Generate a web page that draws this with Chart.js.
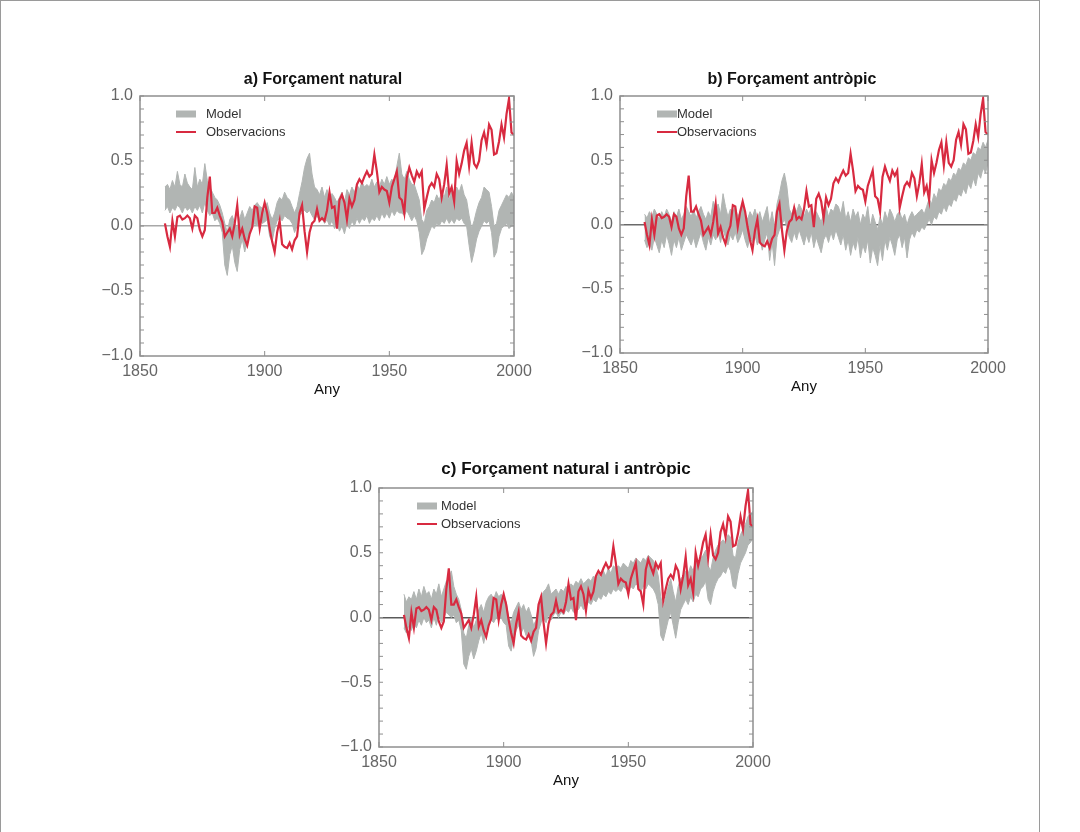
<!DOCTYPE html>
<html>
<head>
<meta charset="utf-8">
<title>Forçament natural i antròpic</title>
<script src="https://cdn.jsdelivr.net/npm/chart.js@4.4.1/dist/chart.umd.min.js"></script>
<style>
  html, body { margin: 0; padding: 0; background: #fff; }
  body { width: 1080px; height: 832px; position: relative; overflow: hidden; }
  #frame { position: absolute; left: 0; top: 0; width: 1040px; height: 900px; border: 1px solid #9a9a9a; box-sizing: border-box; }
  canvas { position: absolute; }
  #ca { left: 60px; top: 62px; }
  #cb { left: 540px; top: 62px; }
  #cc { left: 299px; top: 454px; }
</style>
</head>
<body>
<div id="frame"></div>
<canvas id="ca" width="500" height="346"></canvas>
<canvas id="cb" width="494" height="343"></canvas>
<canvas id="cc" width="500" height="345"></canvas>
<script>
// Panel titles, legend names and axis labels
const panelTitles = ['a) Forçament natural', 'b) Forçament antròpic', 'c) Forçament natural i antròpic'];
const seriesNames = ['Model', 'Observacions'];
const xAxisTitle = 'Any';
const xTickLabels = ['1850', '1900', '1950', '2000'];
const yTickLabels = ['\u22121.0', '\u22120.5', '0.0', '0.5', '1.0'];

// Annual years 1860–2000
const firstYear = 1860, lastYear = 2000;
const years = [];
for (let yr = firstYear; yr <= lastYear; yr++) years.push(yr);

// Observed global mean temperature anomaly (°C), 1860–2000
const observed = [
  0.02, -0.08, -0.16, 0.04, -0.08, 0.07, 0.08, 0.05, 0.06, 0.08,
  0.06, -0.02, 0.08, 0.06, -0.03, -0.08, -0.03, 0.22, 0.38, 0.10,
  0.10, 0.14, 0.08, 0.03, -0.08, -0.05, -0.02, -0.08, 0.02, 0.16,
  -0.07, -0.02, -0.10, -0.15, -0.06, -0.01, 0.15, 0.14, -0.02, 0.10,
  0.18, 0.10, -0.02, -0.12, -0.20, -0.05, 0.04, -0.14, -0.16, -0.17,
  -0.13, -0.18, -0.11, -0.08, 0.10, 0.16, -0.04, -0.20, -0.05, 0.02,
  0.04, 0.13, 0.04, 0.06, 0.04, 0.12, 0.26, 0.14, 0.15, -0.02,
  0.20, 0.24, 0.18, 0.05, 0.21, 0.15, 0.20, 0.32, 0.36, 0.33,
  0.38, 0.42, 0.38, 0.40, 0.55, 0.42, 0.26, 0.30, 0.28, 0.27,
  0.18, 0.30, 0.36, 0.42, 0.22, 0.20, 0.10, 0.37, 0.45, 0.39,
  0.34, 0.42, 0.38, 0.42, 0.13, 0.22, 0.30, 0.33, 0.30, 0.40,
  0.36, 0.22, 0.32, 0.47, 0.25, 0.30, 0.19, 0.50, 0.40, 0.48,
  0.58, 0.64, 0.46, 0.64, 0.48, 0.45, 0.50, 0.66, 0.72, 0.62,
  0.78, 0.74, 0.55, 0.56, 0.65, 0.78, 0.68, 0.86, 0.98, 0.72,
  0.70
];

// Model ensemble range, natural forcing only
const naturalLow = [
  0.12, 0.15, 0.10, 0.14, 0.12, 0.16, 0.14, 0.10, 0.15, 0.12,
  0.14, 0.10, 0.15, 0.12, 0.16, 0.10, 0.18, 0.12, 0.08, 0.10,
  0.04, 0.06, 0.02, -0.05, -0.30, -0.38, -0.22, -0.15, -0.28, -0.35,
  -0.18, -0.10, -0.20, -0.12, -0.05, -0.02, 0.02, 0.00, 0.04, 0.02,
  0.03, 0.05, -0.08, -0.12, -0.02, 0.04, 0.06, 0.04, 0.08, 0.06,
  0.05, 0.02, -0.05, 0.00, 0.08, 0.10, 0.12, 0.10, 0.12, 0.08,
  0.05, 0.08, 0.04, 0.06, 0.02, 0.05, 0.00, 0.04, -0.02, 0.02,
  -0.04, 0.00, -0.06, 0.02, -0.02, 0.04, 0.00, 0.06, 0.02, 0.06,
  0.04, 0.08, 0.02, 0.06, 0.04, 0.08, 0.04, 0.10, 0.06, 0.10,
  0.06, 0.12, 0.08, 0.12, 0.10, 0.10, 0.08, 0.12, 0.08, 0.04,
  0.08, 0.04, -0.05, -0.22, -0.18, -0.10, -0.05, 0.00, -0.02, 0.02,
  0.00, 0.04, 0.02, 0.06, 0.02, 0.05, 0.02, 0.06, 0.04, 0.06,
  0.02, 0.00, -0.15, -0.28, -0.20, -0.10, -0.04, 0.00, 0.04, 0.02,
  0.04, -0.05, -0.24, -0.20, -0.08, -0.02, 0.00, 0.02, -0.02, 0.00,
  0.02
];
const naturalHigh = [
  0.30, 0.32, 0.28, 0.35, 0.30, 0.42, 0.32, 0.30, 0.40, 0.33,
  0.30, 0.28, 0.45, 0.30, 0.36, 0.32, 0.48, 0.35, 0.30, 0.26,
  0.22, 0.20, 0.16, 0.10, 0.02, -0.05, 0.05, 0.08, 0.02, -0.02,
  0.06, 0.12, 0.05, 0.10, 0.15, 0.12, 0.16, 0.18, 0.15, 0.14,
  0.12, 0.18, 0.10, 0.05, 0.10, 0.18, 0.22, 0.20, 0.26, 0.22,
  0.20, 0.15, 0.10, 0.15, 0.25, 0.34, 0.45, 0.52, 0.56, 0.40,
  0.30, 0.28, 0.24, 0.30, 0.22, 0.28, 0.20, 0.25, 0.22, 0.18,
  0.22, 0.26, 0.18, 0.28, 0.24, 0.30, 0.26, 0.32, 0.28, 0.34,
  0.30, 0.32, 0.30, 0.36, 0.30, 0.34, 0.30, 0.36, 0.32, 0.38,
  0.32, 0.36, 0.34, 0.46, 0.56, 0.40, 0.36, 0.42, 0.36, 0.32,
  0.32, 0.26, 0.20, 0.05, 0.02, 0.12, 0.15, 0.20, 0.18, 0.24,
  0.20, 0.26, 0.22, 0.30, 0.20, 0.28, 0.24, 0.30, 0.26, 0.32,
  0.24, 0.20, 0.08, -0.02, 0.04, 0.12, 0.18, 0.22, 0.30, 0.28,
  0.26, 0.15, 0.00, 0.02, 0.12, 0.16, 0.20, 0.24, 0.22, 0.26,
  0.22
];

// Model ensemble range, anthropogenic forcing only
const anthroLow = [
  -0.12, -0.18, -0.14, -0.20, -0.10, -0.16, -0.22, -0.12, -0.18, -0.08,
  -0.15, -0.24, -0.12, -0.18, -0.10, -0.20, -0.14, -0.08, -0.12, -0.16,
  -0.10, -0.18, -0.12, -0.06, -0.14, -0.20, -0.10, -0.16, -0.08, -0.12,
  -0.06, -0.14, -0.04, -0.10, -0.16, -0.08, -0.12, -0.06, -0.14, -0.10,
  -0.04, -0.12, -0.18, -0.10, -0.14, -0.08, -0.16, -0.10, -0.20, -0.12,
  -0.06, -0.28, -0.14, -0.32, -0.10, -0.04, 0.00, 0.04, -0.02, -0.10,
  -0.14, -0.06, -0.12, -0.04, -0.10, -0.16, -0.08, -0.14, -0.06, -0.18,
  -0.10, -0.16, -0.22, -0.12, -0.08, -0.14, -0.06, -0.12, -0.04, -0.10,
  -0.16, -0.08, -0.20, -0.12, -0.24, -0.14, -0.20, -0.10, -0.26, -0.16,
  -0.22, -0.12, -0.30, -0.18, -0.24, -0.32, -0.16, -0.28, -0.12, -0.20,
  -0.10, -0.16, -0.24, -0.12, -0.08, -0.18, -0.10, -0.26, -0.12, -0.06,
  -0.10, -0.04, -0.06, -0.02, -0.04, 0.00, 0.04, 0.00, 0.06, 0.04,
  0.10, 0.08, 0.14, 0.10, 0.16, 0.14, 0.20, 0.18, 0.24, 0.22,
  0.28, 0.24, 0.32, 0.28, 0.36, 0.30, 0.40, 0.36, 0.44, 0.40,
  0.48
];
const anthroHigh = [
  0.08, 0.05, 0.10, 0.06, 0.12, 0.08, 0.04, 0.10, 0.06, 0.12,
  0.08, 0.02, 0.10, 0.06, 0.12, 0.04, 0.08, 0.14, 0.10, 0.06,
  0.12, 0.05, 0.10, 0.14, 0.08, 0.04, 0.10, 0.06, 0.18, 0.12,
  0.16, 0.08, 0.24, 0.14, 0.06, 0.12, 0.10, 0.14, 0.06, 0.10,
  0.16, 0.08, 0.04, 0.10, 0.06, 0.12, 0.05, 0.10, 0.02, 0.08,
  0.14, 0.00, 0.10, -0.02, 0.16, 0.24, 0.34, 0.40, 0.30, 0.12,
  0.08, 0.14, 0.10, 0.16, 0.12, 0.06, 0.12, 0.08, 0.14, 0.04,
  0.10, 0.06, 0.02, 0.08, 0.14, 0.06, 0.12, 0.10, 0.16, 0.14,
  0.08, 0.18, 0.04, 0.10, 0.02, 0.12, 0.06, 0.10, 0.00, 0.08,
  0.04, 0.14, -0.02, 0.08, 0.02, -0.04, 0.06, 0.00, 0.10, 0.04,
  0.12, 0.08, 0.02, 0.08, 0.10, 0.04, 0.08, 0.00, 0.06, 0.10,
  0.06, 0.08, 0.10, 0.12, 0.08, 0.14, 0.20, 0.16, 0.24, 0.20,
  0.28, 0.26, 0.32, 0.30, 0.36, 0.34, 0.40, 0.38, 0.44, 0.42,
  0.48, 0.46, 0.52, 0.50, 0.56, 0.54, 0.60, 0.58, 0.64, 0.60,
  0.66
];

// Model ensemble range, natural and anthropogenic forcing
const combinedLow = [
  -0.08, -0.12, -0.06, -0.10, -0.04, -0.08, -0.02, -0.06, 0.00, -0.04,
  -0.02, -0.08, 0.00, -0.06, 0.02, -0.04, 0.00, 0.04, 0.02, 0.00,
  0.02, -0.04, -0.02, -0.10, -0.36, -0.40, -0.30, -0.24, -0.32, -0.26,
  -0.18, -0.12, -0.20, -0.10, -0.06, -0.02, -0.04, 0.00, -0.02, 0.00,
  -0.04, -0.06, -0.22, -0.26, -0.16, -0.10, -0.06, -0.12, -0.08, -0.14,
  -0.10, -0.18, -0.30, -0.24, -0.10, -0.04, 0.00, -0.04, 0.02, -0.02,
  0.02, 0.04, 0.00, 0.04, 0.02, 0.06, 0.04, 0.08, 0.04, 0.08,
  0.06, 0.10, 0.06, 0.08, 0.12, 0.10, 0.14, 0.12, 0.16, 0.14,
  0.18, 0.16, 0.20, 0.18, 0.22, 0.20, 0.22, 0.20, 0.24, 0.22,
  0.20, 0.24, 0.22, 0.26, 0.24, 0.20, 0.24, 0.22, 0.26, 0.24,
  0.22, 0.18, 0.10, -0.14, -0.18, -0.10, -0.02, 0.04, -0.06, -0.16,
  -0.04, 0.06, 0.10, 0.14, 0.10, 0.16, 0.12, 0.18, 0.16, 0.22,
  0.24, 0.28, 0.14, 0.10, 0.20, 0.26, 0.30, 0.32, 0.36, 0.34,
  0.40, 0.36, 0.24, 0.22, 0.34, 0.42, 0.46, 0.50, 0.56, 0.58,
  0.62
];
const combinedHigh = [
  0.18, 0.12, 0.16, 0.14, 0.20, 0.14, 0.22, 0.16, 0.24, 0.18,
  0.20, 0.14, 0.22, 0.18, 0.26, 0.16, 0.22, 0.28, 0.30, 0.36,
  0.24, 0.18, 0.14, 0.06, -0.12, -0.16, -0.06, 0.00, -0.08, -0.02,
  0.06, 0.10, 0.04, 0.12, 0.16, 0.18, 0.14, 0.20, 0.16, 0.18,
  0.16, 0.12, 0.00, -0.04, 0.04, 0.08, 0.12, 0.06, 0.10, 0.04,
  0.08, 0.02, -0.06, -0.02, 0.10, 0.16, 0.20, 0.22, 0.26, 0.18,
  0.20, 0.22, 0.18, 0.22, 0.20, 0.24, 0.22, 0.26, 0.24, 0.28,
  0.26, 0.30, 0.26, 0.28, 0.30, 0.28, 0.32, 0.30, 0.34, 0.30,
  0.36, 0.32, 0.38, 0.34, 0.40, 0.38, 0.40, 0.38, 0.42, 0.40,
  0.38, 0.44, 0.42, 0.46, 0.44, 0.42, 0.46, 0.44, 0.48, 0.46,
  0.44, 0.40, 0.32, 0.16, 0.08, 0.16, 0.24, 0.30, 0.20, 0.12,
  0.24, 0.30, 0.32, 0.36, 0.34, 0.40, 0.36, 0.44, 0.40, 0.46,
  0.48, 0.52, 0.40, 0.36, 0.46, 0.52, 0.56, 0.58, 0.60, 0.58,
  0.64, 0.62, 0.48, 0.46, 0.58, 0.64, 0.68, 0.72, 0.78, 0.80,
  0.82
];

const modelGray = '#b1b5b3';
const obsRed = '#d82a40';

// Draws the plot frame, inward tick marks, panel title and the in-plot legend
const panelDecor = {
  id: 'panelDecor',
  afterDraw(chart, args, o) {
    const { ctx, chartArea: a, scales } = chart;
    const x = scales.x, y = scales.y;
    const seg = (x1, y1, x2, y2) => { ctx.beginPath(); ctx.moveTo(x1, y1); ctx.lineTo(x2, y2); ctx.stroke(); };
    ctx.save();
    ctx.strokeStyle = '#8f8f8f';
    ctx.lineWidth = 1.5;
    ctx.strokeRect(a.left, a.top, a.right - a.left, a.bottom - a.top);
    ctx.lineWidth = 1;
    y.ticks.forEach(t => {
      const py = y.getPixelForValue(t.value);
      seg(a.left, py, a.left + 4, py);
      seg(a.right - 4, py, a.right, py);
    });
    x.ticks.forEach(t => {
      const px = x.getPixelForValue(t.value);
      seg(px, a.top, px, a.top + 5);
      seg(px, a.bottom - 5, px, a.bottom);
    });

    ctx.fillStyle = '#111';
    ctx.font = 'bold ' + o.titleSize + 'px "Liberation Sans", Arial, sans-serif';
    ctx.textAlign = 'center';
    ctx.textBaseline = 'middle';
    ctx.fillText(o.title, (a.left + a.right) / 2 + o.titleShift, a.top - o.titleGap);

    const lx = a.left + o.legendX, tx = a.left + o.legendTextX;
    const ly1 = a.top + 18, ly2 = a.top + 36;
    ctx.fillStyle = modelGray;
    ctx.fillRect(lx, ly1 - 3.5, 20, 7);
    ctx.strokeStyle = obsRed;
    ctx.lineWidth = 2;
    seg(lx, ly2, lx + 20, ly2);
    ctx.fillStyle = '#333';
    ctx.font = '13px "Liberation Sans", Arial, sans-serif';
    ctx.textAlign = 'left';
    ctx.fillText(seriesNames[0], tx, ly1);
    ctx.fillText(seriesNames[1], tx, ly2);
    ctx.restore();
  }
};

function makePanel(id, low, high, title, opts) {
  const tickFont = { family: '"Liberation Sans", Arial, sans-serif', size: 16 };
  return new Chart(document.getElementById(id), {
    type: 'line',
    data: {
      labels: years,
      datasets: [
        { label: seriesNames[1], data: observed, borderColor: obsRed, borderWidth: 2.2, pointRadius: 0, fill: false, tension: 0 },
        { label: seriesNames[0] + ' min', data: low, borderColor: modelGray, borderWidth: 1, pointRadius: 0, fill: false, tension: 0 },
        { label: seriesNames[0], data: high, borderColor: modelGray, borderWidth: 1, pointRadius: 0, fill: '-1', backgroundColor: modelGray, tension: 0 }
      ]
    },
    options: {
      responsive: false,
      animation: false,
      events: [],
      layout: { padding: { left: 0, right: 46, top: 34, bottom: 0 } },
      plugins: {
        legend: { display: false },
        tooltip: { enabled: false },
        title: { display: false },
        filler: { propagate: false },
        panelDecor: Object.assign({ title: title }, opts)
      },
      scales: {
        x: {
          type: 'linear',
          min: 1850, max: 2000,
          grid: { display: false, drawTicks: false },
          border: { display: false },
          afterFit: s => { s.height = 52; },
          ticks: {
            stepSize: 50, padding: 6, color: '#666', font: tickFont, maxRotation: 0,
            callback: (v) => xTickLabels[Math.round((v - 1850) / 50)]
          },
          title: { display: true, text: xAxisTitle, color: '#111', font: { family: '"Liberation Sans", Arial, sans-serif', size: 15 }, padding: { top: 9, bottom: 9 } }
        },
        y: {
          min: -1, max: 1,
          afterFit: s => { s.width = 80; },
          grid: {
            drawTicks: false,
            lineWidth: 1.5,
            color: c => (c.tick && Math.abs(c.tick.value) < 1e-9) ? opts.zeroColor : 'rgba(0,0,0,0)'
          },
          border: { display: false },
          ticks: {
            stepSize: 0.1, padding: 7, color: '#666', font: tickFont, autoSkip: false,
            callback: (v) => {
              const k = Math.round(v * 10);
              return k % 5 === 0 ? yTickLabels[(k + 10) / 5] : '';
            }
          }
        }
      }
    },
    plugins: [panelDecor]
  });
}

makePanel('ca', naturalLow, naturalHigh, panelTitles[0], { zeroColor: '#a8a8a8', titleGap: 16, titleShift: -4, titleSize: 16, legendX: 36, legendTextX: 66 });
makePanel('cb', anthroLow, anthroHigh, panelTitles[1], { zeroColor: '#6a6a6a', titleGap: 16, titleShift: -12, titleSize: 16, legendX: 37, legendTextX: 57 });
makePanel('cc', combinedLow, combinedHigh, panelTitles[2], { zeroColor: '#5a5a5a', titleGap: 19, titleShift: 0, titleSize: 17, legendX: 38, legendTextX: 62 });
</script>
</body>
</html>
